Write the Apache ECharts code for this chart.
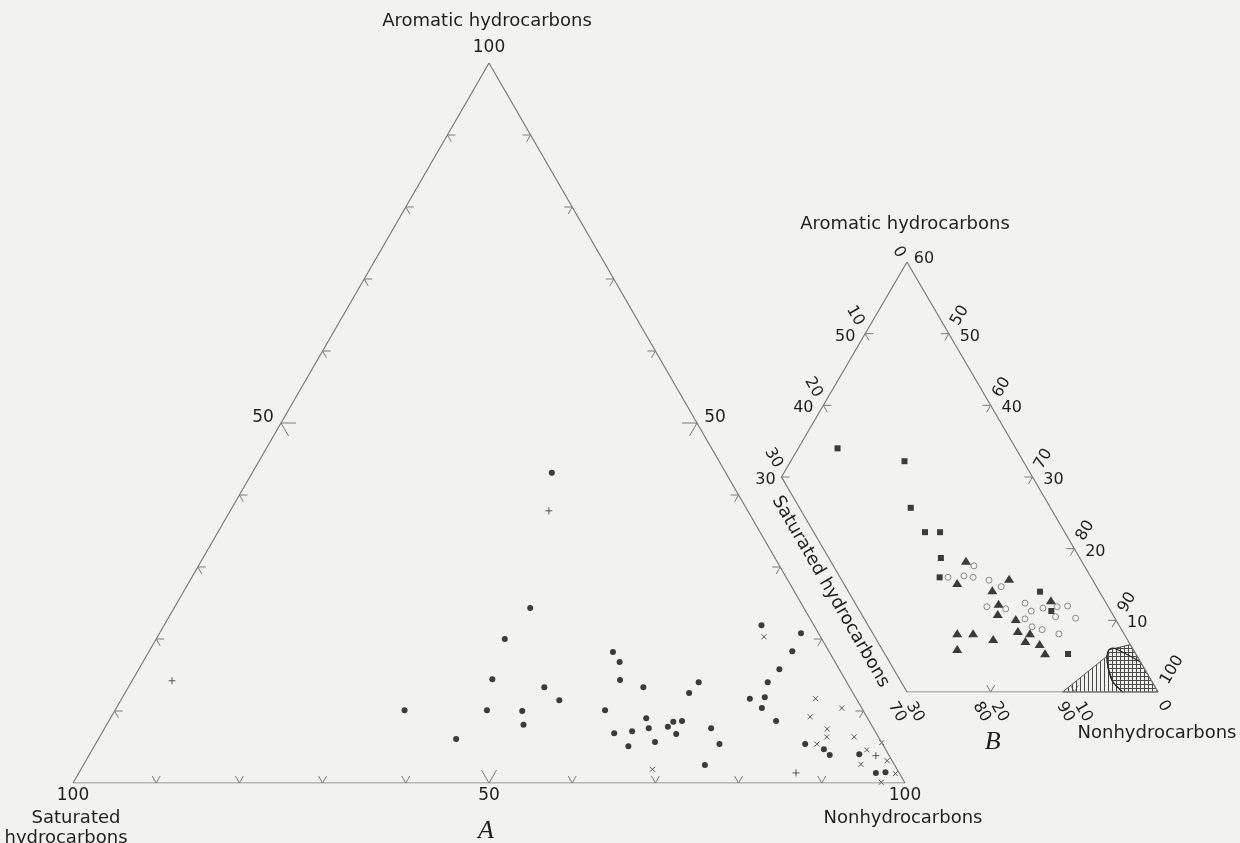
<!DOCTYPE html>
<html>
<head>
<meta charset="utf-8">
<script src="https://cdn.jsdelivr.net/npm/echarts@6/dist/echarts.min.js"></script>
<style>
  html, body { margin: 0; padding: 0; background: #f2f2f0; }
  #chart { width: 1240px; height: 843px; }
</style>
</head>
<body>
<div id="chart"></div>
<script>
// Compositions in percent: [saturated, aromatic, nonhydrocarbons]

// Diagram A – whole triangle
const dotsA = [
  [20.9, 43.1, 36.0], [32.9, 24.3, 42.8], [38.1, 20.0, 41.9], [42.4, 14.4, 43.2],
  [36.7, 13.3, 50.0], [35.8, 11.5, 52.7], [55.1, 10.1, 34.8], [45.2, 10.1, 44.7],
  [41.0, 10.0, 49.0], [41.8, 8.1, 50.1], [50.9, 6.1, 43.0], [26.0, 18.2, 55.8],
  [25.9, 16.8, 57.3], [27.1, 14.3, 58.6], [24.8, 13.3, 61.9], [31.0, 10.1, 58.9],
  [26.6, 9.0, 64.4], [31.5, 6.9, 61.6], [29.2, 7.2, 63.6], [30.7, 5.1, 64.2],
  [27.0, 7.6, 65.4], [27.2, 5.7, 67.1], [24.6, 7.8, 67.6], [23.6, 8.5, 67.9],
  [22.5, 8.6, 68.9], [24.1, 6.8, 69.1], [19.5, 7.6, 72.9], [19.6, 5.4, 75.0],
  [22.8, 2.5, 74.7], [17.8, 14.0, 68.2], [19.7, 12.5, 67.8], [6.3, 21.9, 71.8],
  [2.1, 20.8, 77.1], [4.4, 18.3, 77.3], [7.2, 15.8, 77.0], [9.5, 14.0, 76.5],
  [10.9, 11.9, 77.2], [12.8, 11.7, 75.5], [12.0, 10.4, 77.6], [11.2, 8.6, 80.2],
  [9.3, 5.4, 85.3], [7.4, 4.7, 87.9], [7.1, 3.9, 89.0], [3.5, 4.0, 92.5],
  [2.8, 1.4, 95.8], [1.6, 1.5, 96.9]
];
const crossesA = [
  [6.8, 20.3, 72.9], [4.9, 11.7, 83.4], [2.4, 10.4, 87.2], [6.8, 9.2, 84.0],
  [5.6, 7.5, 86.9], [6.2, 6.4, 87.4], [7.9, 5.4, 86.7], [2.9, 6.4, 90.7],
  [0.0, 5.6, 94.4], [2.3, 4.6, 93.1], [0.6, 3.1, 96.3], [4.0, 2.6, 93.4],
  [0.5, 1.3, 98.2], [2.8, 0.1, 97.1], [29.4, 1.9, 68.7]
];
const plusesA = [
  [1.6, 3.8, 94.6], [12.4, 1.4, 86.2], [23.9, 37.8, 38.3], [81.0, 14.2, 4.8]
];

// Diagram B – enlarged corner (saturated <= 30, nonhydrocarbons >= 40)
const squaresB = [
  [21.3, 34.0, 44.7], [14.2, 32.2, 53.6], [16.7, 25.7, 57.6], [16.7, 22.3, 61.0],
  [14.9, 22.3, 62.8], [16.6, 18.7, 64.7], [18.1, 16.0, 65.9], [7.1, 14.0, 78.9],
  [7.1, 11.3, 81.6], [8.1, 5.3, 86.6]
];
const trianglesB = [
  [13.8, 18.3, 67.9], [16.4, 15.2, 68.4], [9.9, 15.8, 74.3], [12.7, 14.2, 73.1],
  [12.9, 12.3, 74.8], [13.7, 10.9, 75.4], [11.9, 10.2, 77.9], [6.4, 12.8, 80.8],
  [19.9, 8.2, 71.9], [18.0, 8.2, 73.8], [16.0, 7.4, 76.6], [12.5, 8.5, 79.0],
  [11.2, 8.2, 80.6], [12.3, 7.1, 80.6], [10.8, 6.7, 82.5], [21.0, 6.0, 73.0],
  [10.8, 5.4, 83.8]
];
const circlesB = [
  [13.2, 17.6, 69.2], [17.1, 16.0, 66.9], [15.1, 16.2, 68.7], [14.1, 16.0, 69.9],
  [12.4, 15.6, 72.0], [11.4, 14.7, 73.9], [14.5, 11.9, 73.6], [12.4, 11.6, 76.0],
  [9.7, 12.4, 77.9], [9.5, 11.3, 79.2], [10.8, 10.2, 79.0], [7.9, 11.7, 80.4],
  [6.1, 11.9, 82.0], [7.0, 10.5, 82.5], [4.8, 12.0, 83.2], [4.7, 10.3, 85.0],
  [10.5, 9.1, 80.4], [9.5, 8.7, 81.8], [7.8, 8.1, 84.1]
];
// shaded fields near the nonhydrocarbon corner
const ruledFieldB = [
  [11.4, 0.0, 88.6], [3.6, 5.0, 91.4], [4.3, 3.3, 92.4], [4.7, 1.4, 93.9], [4.2, 0.0, 95.8]
];
const gridFieldB = [
  [2.9, 5.9, 91.2], [0.0, 6.6, 93.4], [0.0, 0.0, 100.0], [4.2, 0.0, 95.8],
  [4.7, 1.4, 93.9], [4.3, 3.3, 92.4], [3.6, 5.0, 91.4]
];
const fieldOutlineB = [
  [0.0, 4.2, 95.8], [2.2, 6.1, 91.7], [2.9, 5.9, 91.2], [3.6, 5.0, 91.4],
  [4.3, 3.3, 92.4], [4.7, 1.4, 93.9], [4.2, 0.0, 95.8]
];

// outlines
const cornersA = [[100, 0, 0], [0, 0, 100], [0, 100, 0], [100, 0, 0]];
const cornersB = [[0, 60, 40], [30, 30, 40], [30, 0, 70], [0, 0, 100], [0, 60, 40]];

// tick values
const ticksA = [10, 20, 30, 40, 50, 60, 70, 80, 90];
const leftTicksB = [50, 40];              // aromatic along nonhydrocarbons = 40
const rightTicksB = [50, 40, 30, 20, 10]; // aromatic along saturated = 0
const bottomTicksB = [80, 90];            // nonhydrocarbons along aromatic = 0

const toXY = c => [c[2] + c[1] / 2, c[1]];

const BG = '#f2f2f0';
const LINE = '#7a7a7a';
const INK = '#0c0c0c';
const TEXT = '#1f1f1f';
const FONT = '"DejaVu Sans", Verdana, sans-serif';

function makePattern(kind) {
  const c = document.createElement('canvas');
  c.width = 4; c.height = 4;
  const g = c.getContext('2d');
  g.strokeStyle = '#4a4a4a';
  g.lineWidth = 1;
  g.beginPath();
  g.moveTo(0.5, 0); g.lineTo(0.5, 4);
  if (kind === 'grid') { g.moveTo(0, 0.5); g.lineTo(4, 0.5); }
  g.stroke();
  return c;
}

// unit vectors in screen space (y down) for the gridline directions
const D = a => [Math.cos(a * Math.PI / 180), -Math.sin(a * Math.PI / 180)];

function chevron(p, a1, a2, len) {
  const u = D(a1), v = D(a2);
  return {
    type: 'polyline',
    shape: { points: [[p[0] + u[0] * len, p[1] + u[1] * len], p, [p[0] + v[0] * len, p[1] + v[1] * len]] },
    style: { stroke: LINE, lineWidth: 1, fill: null }
  };
}

function txt(x, y, s, opt) {
  opt = opt || {};
  return {
    type: 'text',
    x: x, y: y, rotation: (opt.rot || 0) * Math.PI / 180,
    style: {
      text: s, fill: TEXT, font: opt.font || ((opt.size || 16) + 'px ' + FONT),
      align: opt.align || 'center', verticalAlign: opt.va || 'middle'
    }
  };
}

function renderA(params, api) {
  const P = c => api.coord(toXY(c));
  const els = [];
  ticksA.forEach(v => {
    const L = v === 50 ? 15 : 8;
    // saturated-aromatic edge (nonhydrocarbons = 0)
    els.push(chevron(P([100 - v, v, 0]), 0, -60, L));
    // aromatic-nonhydrocarbon edge (saturated = 0)
    els.push(chevron(P([0, v, 100 - v]), 180, 240, L));
    // bottom edge (aromatic = 0)
    els.push(chevron(P([100 - v, 0, v]), 60, 120, L));
  });
  const top = P([0, 100, 0]);
  const sat = P([100, 0, 0]);
  const non = P([0, 0, 100]);
  els.push(txt(top[0], top[1] - 15, '100', { size: 17 }));
  els.push(txt(top[0] - 2, top[1] - 42, 'Aromatic hydrocarbons', { size: 18 }));
  const l50 = P([50, 50, 0]);
  els.push(txt(l50[0] - 18, l50[1] - 5, '50', { size: 17 }));
  const r50 = P([0, 50, 50]);
  els.push(txt(r50[0] + 18, r50[1] - 5, '50', { size: 17 }));
  const b50 = P([50, 0, 50]);
  els.push(txt(b50[0], b50[1] + 13, '50', { size: 17 }));
  els.push(txt(b50[0] - 3, b50[1] + 48, 'A', { font: 'italic 26px "Liberation Serif", serif' }));
  els.push(txt(sat[0], sat[1] + 13, '100', { size: 17 }));
  els.push(txt(sat[0] + 3, sat[1] + 35, 'Saturated', { size: 18 }));
  els.push(txt(sat[0] - 7, sat[1] + 55, 'hydrocarbons', { size: 18 }));
  els.push(txt(non[0], non[1] + 13, '100', { size: 17 }));
  els.push(txt(non[0] - 2, non[1] + 35, 'Nonhydrocarbons', { size: 18 }));
  return { type: 'group', children: els };
}

function renderB(params, api) {
  const P = c => api.coord(toXY(c));
  const els = [];
  // left edge: nonhydrocarbons = 40
  leftTicksB.forEach(a => {
    const p = P([60 - a, a, 40]);
    els.push(chevron(p, 0, -60, 8));
    els.push(txt(p[0] - 20, p[1] + 3, String(a)));
    els.push(txt(p[0] - 10, p[1] - 18, String(60 - a), { rot: -60 }));
  });
  const v30 = P([30, 30, 40]);
  els.push(chevron(v30, 0, -60, 8));
  els.push(txt(v30[0] - 16, v30[1] + 3, '30'));
  els.push(txt(v30[0] - 8, v30[1] - 19, '30', { rot: -60 }));
  // right edge: saturated = 0
  rightTicksB.forEach(a => {
    const p = P([0, a, 100 - a]);
    els.push(chevron(p, 180, 240, 8));
    els.push(txt(p[0] + 21, p[1] + 3, String(a)));
    els.push(txt(p[0] + 11, p[1] - 18, String(100 - a), { rot: 60 }));
  });
  // apex
  const apex = P([0, 60, 40]);
  els.push(txt(apex[0] + 17, apex[1] - 3, '60'));
  els.push(txt(apex[0] - 8, apex[1] - 10, '0', { rot: -60 }));
  // bottom edge: aromatic = 0
  bottomTicksB.forEach(n => {
    const p = P([100 - n, 0, n]);
    els.push(chevron(p, 60, 120, 8));
    els.push(txt(p[0] - 9, p[1] + 20, String(n), { rot: -60 }));
    els.push(txt(p[0] + 9, p[1] + 20, String(100 - n), { rot: -60 }));
  });
  const bl = P([30, 0, 70]);
  els.push(txt(bl[0] - 10, bl[1] + 20, '70', { rot: -60 }));
  els.push(txt(bl[0] + 8, bl[1] + 20, '30', { rot: -60 }));
  const br = P([0, 0, 100]);
  els.push(txt(br[0] + 14, br[1] - 22, '100', { rot: 60 }));
  els.push(txt(br[0] + 6, br[1] + 14, '0', { rot: -60 }));
  // titles
  els.push(txt(apex[0] - 2, apex[1] - 38, 'Aromatic hydrocarbons', { size: 18 }));
  els.push(txt(br[0] - 1, br[1] + 41, 'Nonhydrocarbons', { size: 18 }));
  const mid = P([20, 0, 80]);
  els.push(txt(mid[0] + 2, mid[1] + 50, 'B', { font: 'italic 26px "Liberation Serif", serif' }));
  // label along the outside of the saturated = 30 edge
  const s1 = P([30, 14, 56]);
  els.push(txt(s1[0] - 18, s1[1], 'Saturated hydrocarbons', { rot: -60, size: 18 }));
  return { type: 'group', children: els };
}

function renderFields(params, api) {
  const P = c => api.coord(toXY(c));
  return {
    type: 'group',
    children: [
      { type: 'polygon', shape: { points: ruledFieldB.map(P) },
        style: { fill: { image: makePattern('ruled'), repeat: 'repeat' }, stroke: '#555', lineWidth: 1 } },
      { type: 'polygon', shape: { points: gridFieldB.map(P) },
        style: { fill: { image: makePattern('grid'), repeat: 'repeat' }, stroke: '#444', lineWidth: 1 } },
      { type: 'polyline', shape: { points: fieldOutlineB.map(P), smooth: 0.3 },
        style: { stroke: '#222', lineWidth: 1.2, fill: null } }
    ]
  };
}

const chart = echarts.init(document.getElementById('chart'), null, { renderer: 'canvas' });
const hidden = { show: false };
chart.setOption({
  backgroundColor: BG,
  animation: false,
  grid: [
    { left: 73, top: 63, width: 832, height: 720 },
    { left: 907 - 15 * 251 / 30, top: 262, width: 45 * 251 / 30, height: 430 }
  ],
  xAxis: [
    { type: 'value', gridIndex: 0, min: 0, max: 100, ...hidden },
    { type: 'value', gridIndex: 1, min: 55, max: 100, ...hidden }
  ],
  yAxis: [
    { type: 'value', gridIndex: 0, min: 0, max: 100, ...hidden },
    { type: 'value', gridIndex: 1, min: 0, max: 60, ...hidden }
  ],
  series: [
    { type: 'line', xAxisIndex: 0, yAxisIndex: 0, data: cornersA.map(toXY), symbol: 'none',
      lineStyle: { color: LINE, width: 1.2 }, silent: true },
    { type: 'line', xAxisIndex: 1, yAxisIndex: 1, data: cornersB.map(toXY), symbol: 'none',
      lineStyle: { color: LINE, width: 1.2 }, silent: true },
    { type: 'custom', xAxisIndex: 0, yAxisIndex: 0, data: [0], renderItem: renderA, silent: true },
    { type: 'custom', xAxisIndex: 1, yAxisIndex: 1, data: [0], renderItem: renderB, silent: true },
    { type: 'custom', xAxisIndex: 1, yAxisIndex: 1, data: [0], renderItem: renderFields, silent: true },
    { type: 'scatter', xAxisIndex: 0, yAxisIndex: 0, data: dotsA.map(toXY), symbol: 'circle', symbolSize: 6,
      itemStyle: { color: INK }, silent: true },
    { type: 'scatter', xAxisIndex: 0, yAxisIndex: 0, data: crossesA.map(toXY),
      symbol: 'path://M0,0L10,10M10,0L0,10', symbolSize: 5,
      itemStyle: { color: 'none', borderColor: '#333', borderWidth: 1 }, silent: true },
    { type: 'scatter', xAxisIndex: 0, yAxisIndex: 0, data: plusesA.map(toXY),
      symbol: 'path://M5,0L5,10M0,5L10,5', symbolSize: 7,
      itemStyle: { color: 'none', borderColor: '#333', borderWidth: 1 }, silent: true },
    { type: 'scatter', xAxisIndex: 1, yAxisIndex: 1, data: squaresB.map(toXY), symbol: 'rect', symbolSize: 6,
      itemStyle: { color: INK }, silent: true },
    { type: 'scatter', xAxisIndex: 1, yAxisIndex: 1, data: trianglesB.map(toXY), symbol: 'triangle', symbolSize: [10, 8],
      itemStyle: { color: INK }, silent: true },
    { type: 'scatter', xAxisIndex: 1, yAxisIndex: 1, data: circlesB.map(toXY), symbol: 'circle', symbolSize: 6,
      itemStyle: { color: 'rgba(0,0,0,0)', borderColor: '#707070', borderWidth: 1 }, silent: true }
  ]
});
</script>
</body>
</html>
